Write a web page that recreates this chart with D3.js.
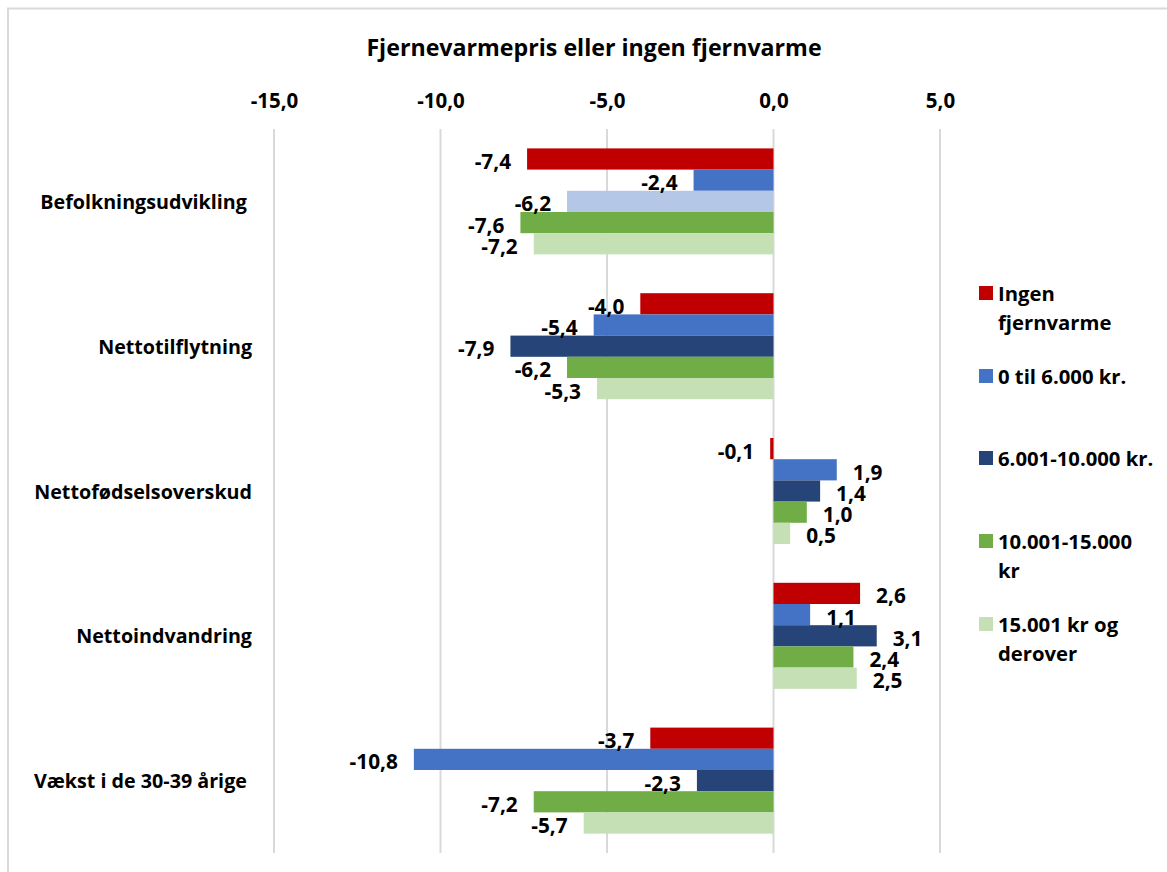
<!DOCTYPE html>
<html>
<head>
<meta charset="utf-8">
<script src="https://cdn.jsdelivr.net/npm/d3@7"></script>
<style>
  html, body { margin: 0; padding: 0; background: #fff; }
  svg { display: block; }
  text { font-family: "Open Sans", Lato, sans-serif; font-weight: bold; fill: #000; }
</style>
</head>
<body>
<svg id="chart" width="1167" height="872"></svg>
<script>
// ---- data ----
const chartTitle = "Fjernevarmepris eller ingen fjernvarme";
const categories = ["Befolkningsudvikling ", "Nettotilflytning", "Nettofødselsoverskud", "Nettoindvandring", "Vækst i de 30-39 årige "];
const seriesNames = ["Ingen fjernvarme", "0 til 6.000 kr.", "6.001-10.000 kr.", "10.001-15.000 kr", "15.001 kr og derover"];
const legendLines = [["Ingen", "fjernvarme"], ["0 til 6.000 kr."], ["6.001-10.000 kr."], ["10.001-15.000", "kr"], ["15.001 kr og", "derover"]];
const ingenFjernvarme = [-7.4, -4.0, -0.1, 2.6, -3.7];
const til6000 = [-2.4, -5.4, 1.9, 1.1, -10.8];
const til10000 = [-6.2, -7.9, 1.4, 3.1, -2.3];
const til15000 = [-7.6, -6.2, 1.0, 2.4, -7.2];
const over15000 = [-7.2, -5.3, 0.5, 2.5, -5.7];
const tickValues = [-15, -10, -5, 0, 5];
const tickLabels = ["-15,0", "-10,0", "-5,0", "0,0", "5,0"];

// ---- styles ----
const seriesColors = ["#C00000", "#4472C4", "#264478", "#70AD47", "#C5E0B4"];
const pointColorOverrides = [{ category: 0, series: 2, color: "#B4C7E7" }];

const seriesValues = [ingenFjernvarme, til6000, til10000, til15000, over15000];
const fmt = v => v.toFixed(1).replace(".", ",");

const svg = d3.select("#chart");

// outer frame
svg.append("rect")
  .attr("x", 8).attr("y", 8.5).attr("width", 1200).attr("height", 900)
  .attr("fill", "none").attr("stroke", "#D9D9D9").attr("stroke-width", 2);

const plotTop = 129, plotBottom = 853;
const x = d3.scaleLinear().domain([-15, 5]).range([274, 940]);
const y = d3.scaleBand().domain(d3.range(categories.length))
  .range([plotTop, plotBottom]).paddingInner(0.268).paddingOuter(0.134);
const ySub = d3.scaleBand().domain(d3.range(seriesNames.length)).range([0, y.bandwidth()]);

// title
svg.append("text").attr("x", 594).attr("y", 47)
  .attr("text-anchor", "middle").attr("dominant-baseline", "central")
  .style("font-size", "23.2px").text(chartTitle);

// gridlines
svg.append("g").selectAll("line").data(tickValues).join("line")
  .attr("x1", d => x(d)).attr("x2", d => x(d))
  .attr("y1", plotTop).attr("y2", plotBottom)
  .attr("stroke", "#D9D9D9").attr("stroke-width", 2);

// top axis labels
const axis = d3.axisTop(x).tickValues(tickValues)
  .tickFormat((d, i) => tickLabels[i]).tickSize(0).tickPadding(0);
const axG = svg.append("g").attr("transform", "translate(0,101)").call(axis);
axG.select(".domain").remove();
axG.selectAll("text").attr("dy", "0.35em").attr("y", 0)
  .style("font-size", "20.5px").style("font-family", "'Open Sans', sans-serif").style("font-weight", "bold").attr("fill", "#000");

// category labels
svg.append("g").selectAll("text").data(categories).join("text")
  .attr("x", 252).attr("y", (d, i) => y(i) + y.bandwidth() / 2)
  .attr("text-anchor", "end").attr("dominant-baseline", "central")
  .style("font-size", "19.7px").style("white-space", "pre")
  .text(d => d);

// bars
const points = [];
seriesValues.forEach((vals, s) => vals.forEach((v, c) => points.push({ s, c, v })));
const colorOf = p => {
  const o = pointColorOverrides.find(q => q.category === p.c && q.series === p.s);
  return o ? o.color : seriesColors[p.s];
};

svg.append("g").selectAll("rect").data(points).join("rect")
  .attr("x", p => x(Math.min(0, p.v)))
  .attr("width", p => Math.abs(x(p.v) - x(0)))
  .attr("y", p => y(p.c) + ySub(p.s))
  .attr("height", ySub.bandwidth())
  .attr("fill", colorOf);

// value labels
svg.append("g").selectAll("text").data(points).join("text")
  .attr("x", p => x(p.v) + (p.v < 0 ? -16 : 16))
  .attr("y", p => y(p.c) + ySub(p.s) + ySub.bandwidth() / 2 + 2)
  .attr("text-anchor", p => p.v < 0 ? "end" : "start")
  .attr("dominant-baseline", "central")
  .style("font-size", "20.8px")
  .text(p => fmt(p.v));

// legend
const legendY = [293, 376, 458, 541, 624];
const lg = svg.append("g");
legendLines.forEach((lines, i) => {
  lg.append("rect").attr("x", 979).attr("y", legendY[i] - 7).attr("width", 14).attr("height", 14)
    .attr("fill", seriesColors[i]);
  lines.forEach((t, j) => {
    lg.append("text").attr("x", 998).attr("y", legendY[i] + j * 29)
      .attr("dominant-baseline", "central").style("font-size", "20.3px").text(t);
  });
});
</script>
</body>
</html>
